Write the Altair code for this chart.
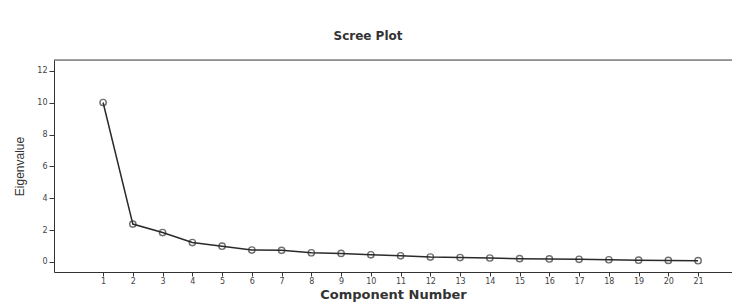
import altair as alt
import pandas as pd

components = list(range(1, 22))
eigenvalues = [10.02, 2.38, 1.85, 1.22, 0.99, 0.75, 0.73, 0.58, 0.54, 0.45, 0.39,
               0.31, 0.28, 0.25, 0.21, 0.19, 0.17, 0.14, 0.11, 0.10, 0.08]
y_ticks = [0, 2, 4, 6, 8, 10, 12]

df = pd.DataFrame({"component": components, "eigenvalue": eigenvalues})

W, H = 678, 212
xs = alt.Scale(domain=[-0.65, 22.14], nice=False, zero=False)
ys = alt.Scale(domain=[-0.63, 12.69], nice=False, zero=False)

x_axis = alt.Axis(values=components, title="Component Number", grid=False,
                  labelFontSize=8, labelColor="#444", labelFont="DejaVu Sans",
                  labelOverlap=False, labelFlush=False,
                  tickSize=4, tickColor="#333", domainColor="#333", labelPadding=1,
                  titleFont="DejaVu Sans", titleFontWeight="bold", titleFontSize=13,
                  titleColor="#333", titlePadding=3)
y_axis = alt.Axis(values=y_ticks, title="Eigenvalue", grid=False,
                  labelFontSize=8, labelColor="#444", labelFont="DejaVu Sans",
                  labelOverlap=False, labelFlush=False,
                  tickSize=5, tickColor="#333", domainColor="#333", labelPadding=2,
                  titleFont="Liberation Sans Narrow, Liberation Sans", titleFontWeight="normal",
                  titleFontSize=12, titleColor="#333", titlePadding=10)

base = alt.Chart(df).encode(
    x=alt.X("component:Q", scale=xs, axis=x_axis),
    y=alt.Y("eigenvalue:Q", scale=ys, axis=y_axis),
)

points = base.mark_point(filled=False, size=40, stroke="#333", strokeWidth=1.4)
line = base.mark_line(color="#2a2a2a", strokeWidth=1.5)
top = alt.Chart(pd.DataFrame({"a": [0]})).mark_rule(color="#444", strokeWidth=1).encode(
    x=alt.value(0), x2=alt.value(W), y=alt.value(0)
)

chart = alt.layer(points, line, top).properties(
    width=W, height=H,
    title=alt.TitleParams("Scree Plot", font="DejaVu Sans", fontSize=12, fontWeight="bold",
                          color="#333", anchor="middle", offset=17, dx=-25),
    autosize=alt.AutoSizeParams(type="none"),
    padding={"left": 46, "top": 52, "right": 0, "bottom": 30},
).configure_view(stroke=None).configure_axis(labelOverlap=False).configure(background="white")

chart.save("out.html", embed_options={"renderer": "svg", "actions": False})
